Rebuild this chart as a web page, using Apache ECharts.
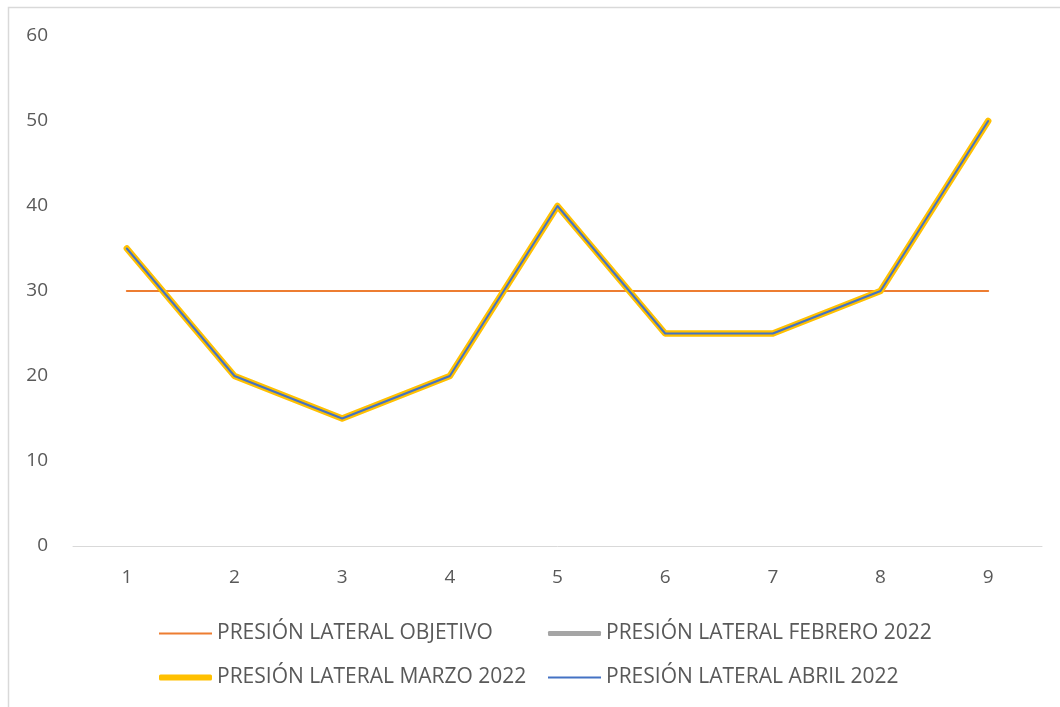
<!DOCTYPE html>
<html>
<head>
<meta charset="utf-8">
<script src="https://cdn.jsdelivr.net/npm/echarts@6/dist/echarts.min.js"></script>
<style>
  html, body { margin: 0; padding: 0; background: #fff; }
  #chart { width: 1060px; height: 707px; }
</style>
</head>
<body>
<div id="chart"></div>
<script>
// Categories (x axis) and series values
const categories = ['1', '2', '3', '4', '5', '6', '7', '8', '9'];
const objetivo = [30, 30, 30, 30, 30, 30, 30, 30, 30];
const febrero = [35, 20, 15, 20, 40, 25, 25, 30, 50];
const marzo = [35, 20, 15, 20, 40, 25, 25, 30, 50];
const abril = [35, 20, 15, 20, 40, 25, 25, 30, 50];
const seriesNames = [
  'PRESIÓN LATERAL OBJETIVO',
  'PRESIÓN LATERAL FEBRERO 2022',
  'PRESIÓN LATERAL MARZO 2022',
  'PRESIÓN LATERAL ABRIL 2022'
];

const FONT = "'Open Sans', 'Noto Sans', sans-serif";
const TEXT = '#595959';

const chart = echarts.init(document.getElementById('chart'), null, { renderer: 'canvas' });

function lineSeries(name, data, color, width) {
  return {
    name: name,
    type: 'line',
    data: data,
    symbol: 'none',
    smooth: false,
    lineStyle: { color: color, width: width, cap: 'round', join: 'round' },
    itemStyle: { color: color },
    emphasis: { disabled: true },
    animation: false
  };
}

// One legend component per entry so the two columns line up
function legendAt(name, left, top, thickness, icon) {
  return {
    show: true,
    data: [name],
    left: left,
    top: top,
    orient: 'horizontal',
    itemWidth: 53,
    itemHeight: thickness,
    icon: icon,
    selectedMode: false,
    textStyle: { color: TEXT, fontSize: 21, fontFamily: FONT }
  };
}

const option = {
  backgroundColor: '#ffffff',
  animation: false,
  grid: { left: 73, right: 18, top: 36, bottom: 161, containLabel: false },
  xAxis: {
    type: 'category',
    data: categories,
    boundaryGap: true,
    axisLine: { show: true, lineStyle: { color: '#d9d9d9', width: 1 } },
    axisTick: { show: false },
    axisLabel: { color: TEXT, fontSize: 19, fontFamily: FONT, margin: 22 },
    splitLine: { show: false }
  },
  yAxis: {
    type: 'value',
    min: 0,
    max: 60,
    interval: 10,
    axisLine: { show: false },
    axisTick: { show: false },
    axisLabel: { color: TEXT, fontSize: 19, fontFamily: FONT, margin: 25 },
    splitLine: { show: false }
  },
  legend: [
    legendAt(seriesNames[0], 154, 618, 2, 'rect'),
    legendAt(seriesNames[1], 543, 618, 5, 'roundRect'),
    legendAt(seriesNames[2], 154, 662, 6, 'roundRect'),
    legendAt(seriesNames[3], 543, 662, 2, 'rect')
  ],
  graphic: [
    {
      type: 'polyline',
      silent: true,
      shape: { points: [[8.5, 707], [8.5, 7.5], [1060, 7.5]] },
      style: { stroke: '#d9d9d9', lineWidth: 1.5, fill: null }
    }
  ],
  series: [
    lineSeries(seriesNames[0], objetivo, '#ED7D31', 2),
    lineSeries(seriesNames[1], febrero, '#A5A5A5', 5),
    lineSeries(seriesNames[2], marzo, '#FFC000', 6.5),
    lineSeries(seriesNames[3], abril, '#4472C4', 2)
  ]
};

chart.setOption(option);
</script>
</body>
</html>
